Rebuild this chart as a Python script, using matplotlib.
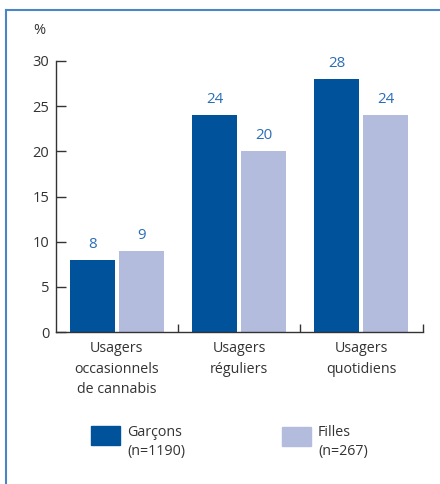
import matplotlib
matplotlib.use("Agg")
import matplotlib.pyplot as plt
from matplotlib.patches import Rectangle
from matplotlib.lines import Line2D

plt.rcParams['font.family'] = ['Open Sans', 'DejaVu Sans']

categories = ["Usagers\noccasionnels\nde cannabis", "Usagers\nréguliers", "Usagers\nquotidiens"]
garcons = [8, 24, 28]
filles = [9, 20, 24]
series_labels = ["Garçons\n(n=1190)", "Filles\n(n=267)"]
yticks = [0, 5, 10, 15, 20, 25, 30]

dark = "#00529b"
light = "#b3bcdc"
text_col = "#333333"
value_col = "#2a6db5"
frame_col = "#4a86c5"

W, H = 440, 484
fig = plt.figure(figsize=(W / 100, H / 100), dpi=100)

# outer frame: left and top edges
fig.add_artist(Line2D([6 / W, 6 / W], [0, 1 - 10 / H], color=frame_col, lw=1.5))
fig.add_artist(Line2D([6 / W, 1], [1 - 10 / H, 1 - 10 / H], color=frame_col, lw=1.5))

ax = fig.add_axes([55.5 / W, (H - 332) / H, (422.5 - 55.5) / W, (332 - 61) / H])

x = list(range(len(categories)))
bw = 0.367
off = 0.2
b1 = ax.bar([i - off for i in x], garcons, width=bw, color=dark)
b2 = ax.bar([i + off for i in x], filles, width=bw, color=light)

for bars, vals in ((b1, garcons), (b2, filles)):
    for r, v in zip(bars, vals):
        ax.text(r.get_x() + r.get_width() / 2, v + 0.9, str(v), ha="center", va="bottom",
                fontsize=10.8, color=value_col)

ax.set_xlim(-0.5, 2.5)
ax.set_ylim(0, 30)
for s in ("top", "right"):
    ax.spines[s].set_visible(False)
for s in ("left", "bottom"):
    ax.spines[s].set_color(text_col)
    ax.spines[s].set_linewidth(1.0)

ax.set_yticks(yticks)
ax.set_yticklabels([str(t) for t in yticks])
ax.tick_params(axis="y", direction="in", length=7, width=1, color=text_col,
               labelsize=10.5, labelcolor=text_col, pad=4.5)

# boundary ticks between groups
ax.set_xticks([0.5, 1.5, 2.5])
ax.set_xticklabels([])
ax.tick_params(axis="x", direction="in", length=6, width=1, color=text_col)
for i, c in enumerate(categories):
    ax.text(i, -1.0, c, ha="center", va="top", fontsize=10.3, color=text_col,
            linespacing=1.5)

fig.text(39 / W, 1 - 31 / H, "%", ha="center", va="center", fontsize=10.5, color=text_col)

# legend
fig.add_artist(Rectangle((91 / W, 1 - 445 / H), 29 / W, 19 / H, color=dark,
                         transform=fig.transFigure))
fig.text(127 / W, 1 - 442 / H, series_labels[0], ha="left", va="center", fontsize=10.3,
         color=text_col, linespacing=1.4)
fig.add_artist(Rectangle((282 / W, 1 - 446 / H), 29 / W, 19 / H, color=light,
                         transform=fig.transFigure))
fig.text(318 / W, 1 - 442 / H, series_labels[1], ha="left", va="center", fontsize=10.3,
         color=text_col, linespacing=1.4)

fig.savefig("out.png", dpi=100)
